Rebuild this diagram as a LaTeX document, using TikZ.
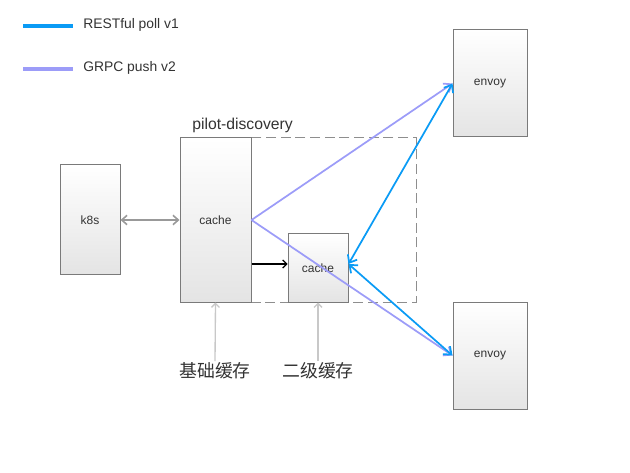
\documentclass[tikz,border=0pt]{standalone}
\usepackage{fontspec}
\setmainfont{Liberation Sans}
\newfontfamily\cjk{Noto Sans CJK SC}
\usetikzlibrary{arrows.meta, positioning}
\definecolor{boxline}{HTML}{7A7A7A}
\definecolor{boxbottom}{HTML}{E4E4E4}
\definecolor{restblue}{HTML}{0A9BF5}
\definecolor{grpcpurple}{HTML}{9C9CF8}
\definecolor{linkgray}{HTML}{999999}
\definecolor{notegray}{HTML}{C8C8C8}
\definecolor{textdark}{HTML}{333333}

\begin{document}
\begin{tikzpicture}[
    x=0.75pt, y=-0.75pt,
    font=\fontsize{9}{11}\selectfont,
    every node/.style={text=textdark},
    compbox/.style={
        draw=boxline, line width=0.75pt,
        top color=white, bottom color=boxbottom,
        inner sep=0pt
    },
    restline/.style={restblue, line width=1.3pt, >={Straight Barb[length=5pt, width=8pt]}},
    grpcline/.style={grpcpurple, line width=1.3pt, >={Straight Barb[length=5pt, width=8pt]}},
    noteline/.style={notegray, line width=1pt, ->, >={Straight Barb[length=3pt, width=6pt]}},
    notelabel/.style={font=\cjk\fontsize{13.4}{15}\selectfont, inner sep=1pt},
    legendtext/.style={anchor=west, inner sep=0pt, font=\fontsize{10.4}{12}\selectfont},
]
\useasboundingbox (0,0) rectangle (630,473);

% === legend ===
\coordinate (restA) at (23,26);
\coordinate (restB) at (73,26);
\draw[restblue, line width=2.6pt] (restA) -- (restB);
\node[legendtext] (restlbl) at (83,25) {RESTful poll v1};
\coordinate (grpcA) at (23,69);
\coordinate (grpcB) at (73,69);
\draw[grpcpurple, line width=2.6pt] (grpcA) -- (grpcB);
\node[legendtext] (grpclbl) at (83,68) {GRPC push v2};

% === pilot-discovery frame ===
\draw[boxline!85, line width=0.75pt, dash pattern=on 7.5pt off 3.5pt] (180,138) rectangle (416,302);
\node[anchor=south west, inner sep=0pt, font=\fontsize{11.8}{13}\selectfont] (pilot) at (192,133) {pilot-discovery};

% === components ===
\node[compbox, minimum width=45pt, minimum height=82.5pt] (k8s) at (90,220) {k8s};
\node[compbox, minimum width=53.25pt, minimum height=123pt] (cache) at (215.5,220) {cache};
\node[compbox, minimum width=45pt, minimum height=51pt] (subcache) at (318,268) {cache};
\node[compbox, minimum width=55.5pt, minimum height=80.25pt] (envoyA) at (490,83.5) {envoy};
\node[compbox, minimum width=55.5pt, minimum height=80.25pt] (envoyB) at (490,355.5) {envoy};

% === notes ===
\node[notelabel] (basecache) at (215,371) {基础缓存};
\node[notelabel] (l2cache) at (318,371) {二级缓存};
\draw[noteline] (basecache.north) -- (cache.south);
\draw[noteline] (l2cache.north) -- (subcache.south);

% === connectors ===
\draw[linkgray, line width=1.2pt, <->, >={Straight Barb[length=4pt, width=7pt]}] (k8s.east) -- (cache.west);
\draw[black, line width=0.9pt, ->, >={Straight Barb[length=3pt, width=6pt]}] ([yshift=-33pt]cache.east) -- ([yshift=3pt]subcache.west);
\draw[grpcline, ->] (cache.east) -- (envoyA.west);
\draw[grpcline, ->] (cache.east) -- (envoyB.west);
\draw[restline, <->] (envoyA.west) -- ([yshift=3pt]subcache.east);
\draw[restline, <->] ([yshift=3pt]subcache.east) -- (envoyB.west);

\end{tikzpicture}
\end{document}
